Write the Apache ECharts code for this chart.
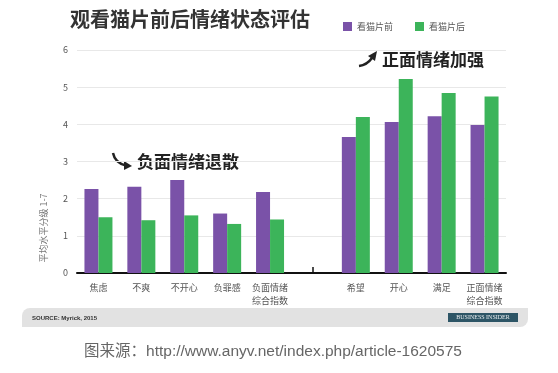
<!DOCTYPE html>
<html>
<head>
<meta charset="utf-8">
<script src="https://cdn.jsdelivr.net/npm/echarts@6/dist/echarts.min.js"></script>
<style>
html,body{margin:0;padding:0;background:#fff;}
#c{width:558px;height:373px;}
</style>
</head>
<body>
<div id="c"></div>
<script>
const categories = ['焦虑','不爽','不开心','负罪感','负面情绪\n综合指数','','希望','开心','满足','正面情绪\n综合指数'];
const beforeValues = [2.26,2.32,2.50,1.60,2.18,null,3.66,4.06,4.22,3.98];
const afterValues = [1.50,1.42,1.55,1.32,1.44,null,4.20,5.22,4.84,4.75];
const seriesNames = ['看猫片前','看猫片后'];
const yTicks = [0,1,2,3,4,5,6];

const FONT = '"Noto Sans CJK SC", "Noto Sans", sans-serif';
const chart = echarts.init(document.getElementById('c'), null, {renderer:'canvas'});
chart.setOption({
  animation:false,
  backgroundColor:'#ffffff',
  textStyle:{fontFamily:FONT},
  legend:{
    left:338, top:17, itemWidth:9, itemHeight:9, itemGap:22,
    icon:'rect',
    textStyle:{fontSize:9,color:'#555',fontFamily:FONT},
    data:seriesNames
  },
  grid:{left:77,right:52,top:50,bottom:100,containLabel:false},
  xAxis:{
    type:'category',
    data:categories,
    axisLine:{lineStyle:{color:'#111',width:2}},
    axisTick:{show:true,inside:true,length:6,alignWithLabel:true,
      interval:function(i){return i===5;},lineStyle:{color:'#111',width:1.5}},
    axisLabel:{interval:0,fontSize:9,color:'#555',lineHeight:13,margin:8,fontFamily:FONT}
  },
  yAxis:{
    type:'value',min:yTicks[0],max:yTicks[yTicks.length-1],interval:1,
    axisLine:{show:false},axisTick:{show:false},
    axisLabel:{fontSize:9,color:'#555',margin:9,fontFamily:FONT},
    splitLine:{lineStyle:{color:'#e8e8e8',width:1}}
  },
  series:[
    {name:seriesNames[0],type:'bar',data:beforeValues,barWidth:14,barGap:'0%',
     itemStyle:{color:'#7a52a8'}},
    {name:seriesNames[1],type:'bar',data:afterValues,barWidth:14,barGap:'0%',
     itemStyle:{color:'#3cb45a'}}
  ],
  graphic:[
    {type:'text',left:70,top:9,style:{text:'观看猫片前后情绪状态评估',fontSize:20,fontWeight:'bold',fill:'#333',fontFamily:FONT}},
    {type:'text',x:44,y:228,rotation:Math.PI/2,style:{text:'平均水平分级 1-7',fontSize:9,fill:'#777',align:'center',verticalAlign:'middle',fontFamily:FONT}},
    {type:'bezierCurve',shape:{x1:113,y1:153,cpx1:115,cpy1:163,x2:126,y2:165.5},style:{stroke:'#222',lineWidth:2.5,fill:null}},
    {type:'polygon',shape:{points:[[124,161],[132,166],[124,170]]},style:{fill:'#222'}},
    {type:'text',x:137,y:162,style:{text:'负面情绪退散',fontSize:17,fontWeight:'bold',fill:'#222',verticalAlign:'middle',fontFamily:FONT}},
    {type:'bezierCurve',shape:{x1:359,y1:66,cpx1:367,cpy1:65,x2:372,y2:58},style:{stroke:'#222',lineWidth:2.5,fill:null}},
    {type:'polygon',shape:{points:[[368,56],[377,51],[375,61]]},style:{fill:'#222'}},
    {type:'text',x:382,y:60,style:{text:'正面情绪加强',fontSize:17,fontWeight:'bold',fill:'#222',verticalAlign:'middle',fontFamily:FONT}},
    {type:'rect',shape:{x:22,y:308,width:506,height:19,r:[8,0,8,0]},style:{fill:'#e2e2e2'}},
    {type:'text',x:32,y:318,style:{text:'SOURCE: Myrick, 2015',fontSize:6,fontWeight:'bold',fill:'#333',verticalAlign:'middle',fontFamily:'Liberation Sans'}},
    {type:'rect',shape:{x:448,y:313,width:70,height:9},style:{fill:'#2d5566'}},
    {type:'text',x:483,y:317.5,style:{text:'BUSINESS INSIDER',fontSize:6,fill:'#e8eef0',align:'center',verticalAlign:'middle',fontFamily:'Liberation Serif'}},
    {type:'text',x:273,y:352,style:{text:'图来源：http://www.anyv.net/index.php/article-1620575',fontSize:15.5,fill:'#666',align:'center',verticalAlign:'middle',fontFamily:'"Liberation Sans", "Noto Sans CJK SC", sans-serif'}}
  ]
});
</script>
</body>
</html>
